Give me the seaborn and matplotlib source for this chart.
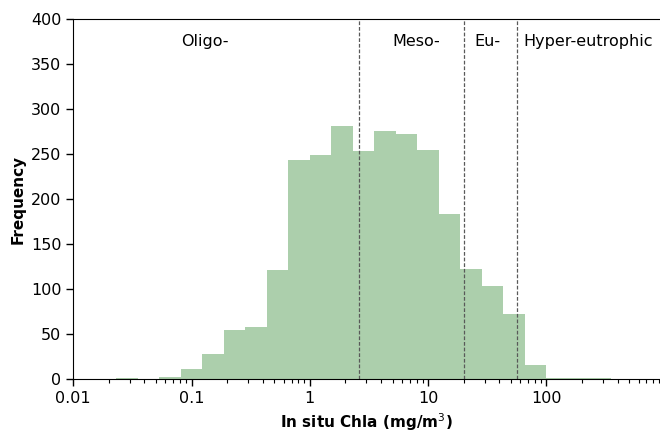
import numpy as np
import pandas as pd
import matplotlib
matplotlib.use("Agg")
import matplotlib.pyplot as plt
import seaborn as sns

# Histogram bins: log-spaced, 11 bins per two decades (bin index k -> edge 10**(2k/11))
bin_index = list(range(-9, 15))
counts = [2, 0, 3, 12, 28, 55, 58, 121, 244, 249, 281, 253, 276, 272, 255,
          183, 122, 104, 73, 16, 2, 1, 1]
thresholds = [2.6, 20, 56]
zone_labels = ["Oligo-", "Meso-", "Eu-", "Hyper-eutrophic"]
zone_label_x = [0.13, 7.9, 32, 224]
xtick_vals = [0.01, 0.1, 1, 10, 100]
xtick_labels = ["0.01", "0.1", "1", "10", "100"]

edges = np.power(10.0, np.array(bin_index) * 2.0 / 11.0)
centers = np.sqrt(edges[:-1] * edges[1:])
df = pd.DataFrame({"chla": centers, "n": counts})

sns.set_style("ticks")
plt.rcParams["font.family"] = ["DejaVu Sans"]
plt.rcParams["text.color"] = "black"
plt.rcParams["axes.labelcolor"] = "black"
plt.rcParams["xtick.color"] = "black"
plt.rcParams["ytick.color"] = "black"
plt.rcParams["axes.edgecolor"] = "black"

fig = plt.figure(figsize=(6.6, 4.33), dpi=100)
ax = fig.add_axes([0.111, 0.124, 0.888, 0.832])

sns.histplot(data=df, x="chla", weights="n", bins=edges.tolist(), ax=ax,
             color="#accfac", alpha=1.0, linewidth=0, edgecolor="none")
ax.set_xscale("log")
ax.set_xlim(0.01, 900)
ax.set_ylim(0, 400)

for t in thresholds:
    ax.axvline(t, color="0.35", linestyle=(0, (3, 1.5)), linewidth=0.9)

for lab, xv in zip(zone_labels, zone_label_x):
    ax.text(xv, 375, lab, ha="center", va="center", fontsize=11.5, color="black")

ax.set_xticks(xtick_vals)
ax.set_xticklabels(xtick_labels)
ax.tick_params(axis="both", which="major", labelsize=11.5, length=5, width=1,
               colors="black")
ax.tick_params(axis="x", which="minor", length=3, width=0.8, colors="black")
ax.set_yticks(range(0, 401, 50))

ax.set_xlabel("In situ Chla (mg/m$^3$)", fontsize=11, fontweight="bold", color="black")
ax.set_ylabel("Frequency", fontsize=11, fontweight="bold", color="black")
ax.spines["right"].set_visible(False)

fig.savefig("out.png", dpi=100)
